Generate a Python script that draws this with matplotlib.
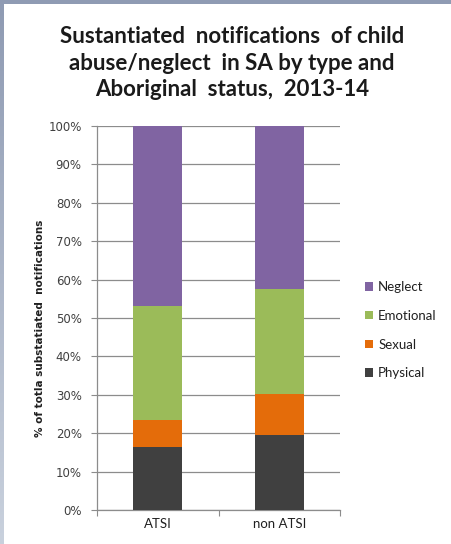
import matplotlib
matplotlib.use("Agg")
import matplotlib.pyplot as plt
import numpy as np
from matplotlib.patches import Rectangle
from matplotlib.colors import LinearSegmentedColormap

plt.rcParams['font.family'] = ['Lato', 'DejaVu Sans']

categories = ["ATSI", "non ATSI"]
series_names = ["Physical", "Sexual", "Emotional", "Neglect"]
physical = [16.5, 19.5]
sexual = [7.0, 10.7]
emotional = [29.6, 27.4]
neglect = [46.9, 42.4]
colors = ["#404040", "#E46C0A", "#9BBB59", "#8064A2"]
yticks = [0, 10, 20, 30, 40, 50, 60, 70, 80, 90, 100]
title = "Sustantiated  notifications  of child\nabuse/neglect  in SA by type and\nAboriginal  status,  2013-14"
ylabel = "% of totla substatiated  notifications"

W, H = 452, 544
fig = plt.figure(figsize=(W / 100, H / 100), dpi=100)
fig.patch.set_facecolor("white")

# frame bands
fig.patches.append(Rectangle((0, 1 - 4 / H), 1, 4 / H, transform=fig.transFigure,
                             facecolor="#8f9bb3", edgecolor="none", zorder=0))
grad = np.linspace(0, 1, 200).reshape(-1, 1)
ax_bg = fig.add_axes([0, 0, 4 / W, 1 - 4 / H])
cm = LinearSegmentedColormap.from_list("g", ["#c9d1dd", "#8f9bb3"])
ax_bg.imshow(grad, aspect="auto", cmap=cm, origin="lower", extent=[0, 1, 0, 1])
ax_bg.set_axis_off()

ax = fig.add_axes([97 / W, 34 / H, 243 / W, 384 / H])
x = np.arange(len(categories))
bottom = np.zeros(len(categories))
bars = []
for name, vals, c in zip(series_names, [physical, sexual, emotional, neglect], colors):
    b = ax.bar(x, vals, width=0.40, bottom=bottom, color=c, label=name, zorder=3)
    bars.append(b)
    bottom += np.array(vals)

ax.set_xlim(-0.5, 1.5)
ax.set_ylim(0, 100)
ax.set_yticks(yticks)
ax.set_yticklabels([f"{v}%" for v in yticks], fontsize=8.5, color="#404040",
                   family="DejaVu Sans")
ax.yaxis.grid(True, color="#8c8c8c", linewidth=0.9, zorder=0)
ax.tick_params(axis="y", length=4.5, width=0.8, color="#8c8c8c", pad=6.5)

ax.set_xticks([-0.5, 0.5, 1.5])
ax.set_xticklabels(["", "", ""])
ax.tick_params(axis="x", which="major", length=4.5, width=0.8, color="#8c8c8c")
ax.set_xticks(x, minor=True)
ax.set_xticklabels(categories, minor=True, fontsize=9.5, color="#202020")
ax.tick_params(axis="x", which="minor", length=0, pad=6)

for s in ["top", "right"]:
    ax.spines[s].set_visible(False)
for s in ["left", "bottom"]:
    ax.spines[s].set_color("#8c8c8c")
    ax.spines[s].set_linewidth(0.9)

fig.text(40 / W, 1 - 328 / H, ylabel, rotation=90, ha="center", va="center",
         fontsize=7.5, fontweight="bold", color="#202020", family="DejaVu Sans")

fig.text(232 / W, 1 - 63 / H, title, ha="center", va="center", fontsize=16,
         fontweight="bold", color="#1a1a1a", linespacing=1.3)

handles = [bars[3], bars[2], bars[1], bars[0]]
labels = ["Neglect", "Emotional", "Sexual", "Physical"]
leg = fig.legend(handles, labels, loc="upper left", bbox_to_anchor=(365 / W, 1 - 281 / H),
                 frameon=False, fontsize=9.5, handlelength=0.6, handleheight=0.6,
                 handletextpad=0.4, labelspacing=1.27, borderpad=0, borderaxespad=0)
for t in leg.get_texts():
    t.set_color("#202020")

fig.savefig("out.png", dpi=100)
